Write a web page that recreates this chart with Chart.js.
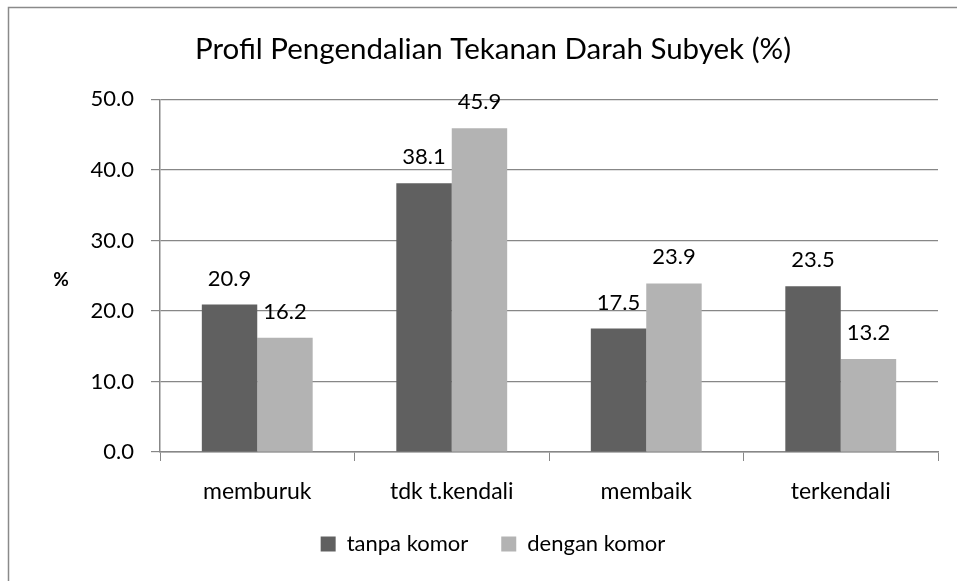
<!DOCTYPE html>
<html>
<head>
<meta charset="utf-8">
<script src="https://cdn.jsdelivr.net/npm/chart.js@4"></script>
<style>
  html, body { margin: 0; padding: 0; background: #fff; }
  #wrap { width: 957px; height: 581px; position: relative; }
</style>
</head>
<body>
<div id="wrap"><canvas id="chart" width="957" height="581"></canvas></div>
<script>
const categories = ["memburuk", "tdk t.kendali", "membaik", "terkendali"];
const tanpaKomor = [20.9, 38.1, 17.5, 23.5];
const denganKomor = [16.2, 45.9, 23.9, 13.2];
const seriesNames = ["tanpa komor", "dengan komor"];
const chartTitle = "Profil Pengendalian Tekanan Darah Subyek (%)";
const yTitle = "%";

const FONT = "Lato, 'Open Sans', sans-serif";
const gridColor = "#878787";

// Outer frame of the chart (left and top edges visible)
const framePlugin = {
  id: "frame",
  beforeDraw: (chart) => {
    const { ctx } = chart;
    ctx.save();
    ctx.fillStyle = "#fff";
    ctx.fillRect(0, 0, chart.width, chart.height);
    ctx.strokeStyle = "#8a8a8a";
    ctx.lineWidth = 1.5;
    ctx.beginPath();
    ctx.moveTo(8.5, chart.height + 2);
    ctx.lineTo(8.5, 7.5);
    ctx.lineTo(chart.width + 2, 7.5);
    ctx.stroke();
    ctx.restore();
  },
};

// Value labels over every bar + horizontal "%" axis title
const valueLabels = {
  id: "valueLabels",
  afterDatasetsDraw: (chart) => {
    const { ctx, chartArea } = chart;
    ctx.save();
    ctx.font = "22px " + FONT;
    ctx.fillStyle = "#000";
    ctx.textAlign = "center";
    ctx.textBaseline = "alphabetic";
    chart.data.datasets.forEach((ds, i) => {
      chart.getDatasetMeta(i).data.forEach((bar, j) => {
        ctx.fillText(ds.data[j].toFixed(1), bar.x, bar.y - 19);
      });
    });
    ctx.font = "bold 19px " + FONT;
    ctx.textBaseline = "middle";
    ctx.fillText(yTitle, 61, (chartArea.top + chartArea.bottom) / 2 + 4);
    ctx.restore();
  },
};

const ctx = document.getElementById("chart").getContext("2d");
new Chart(ctx, {
  type: "bar",
  data: {
    labels: categories,
    datasets: [
      { label: seriesNames[0], data: tanpaKomor, backgroundColor: "#606060" },
      { label: seriesNames[1], data: denganKomor, backgroundColor: "#b3b3b3" },
    ],
  },
  plugins: [framePlugin, valueLabels],
  options: {
    responsive: false,
    animation: false,
    devicePixelRatio: 1,
    layout: { padding: { left: 48, right: 19, top: 0, bottom: 16 } },
    datasets: { bar: { categoryPercentage: 0.57, barPercentage: 1.0 } },
    plugins: {
      title: {
        display: true,
        text: chartTitle,
        color: "#000",
        font: { family: FONT, size: 29.5, weight: "normal" },
        padding: { top: 32, bottom: 32 },
      },
      legend: {
        position: "bottom",
        labels: {
          color: "#000",
          font: { family: FONT, size: 22 },
          boxWidth: 15,
          boxHeight: 15,
          padding: 33,
        },
      },
      tooltip: { enabled: false },
    },
    scales: {
      x: {
        offset: true,
        afterFit: (s) => { s.height = 48; },
        grid: { display: true, drawOnChartArea: false, offset: true, tickLength: 9, color: gridColor },
        border: { color: gridColor, width: 1.5 },
        ticks: { color: "#000", font: { family: FONT, size: 23 }, padding: 17 },
      },
      y: {
        min: 0,
        max: 50,
        afterFit: (s) => { s.width = 112; },
        grid: { color: gridColor, lineWidth: 1.2, tickLength: 9 },
        border: { color: gridColor, width: 1.5 },
        ticks: {
          stepSize: 10,
          color: "#000",
          font: { family: FONT, size: 22 },
          padding: 17,
          callback: (v) => Number(v).toFixed(1),
        },
      },
    },
  },
});
</script>
</body>
</html>
